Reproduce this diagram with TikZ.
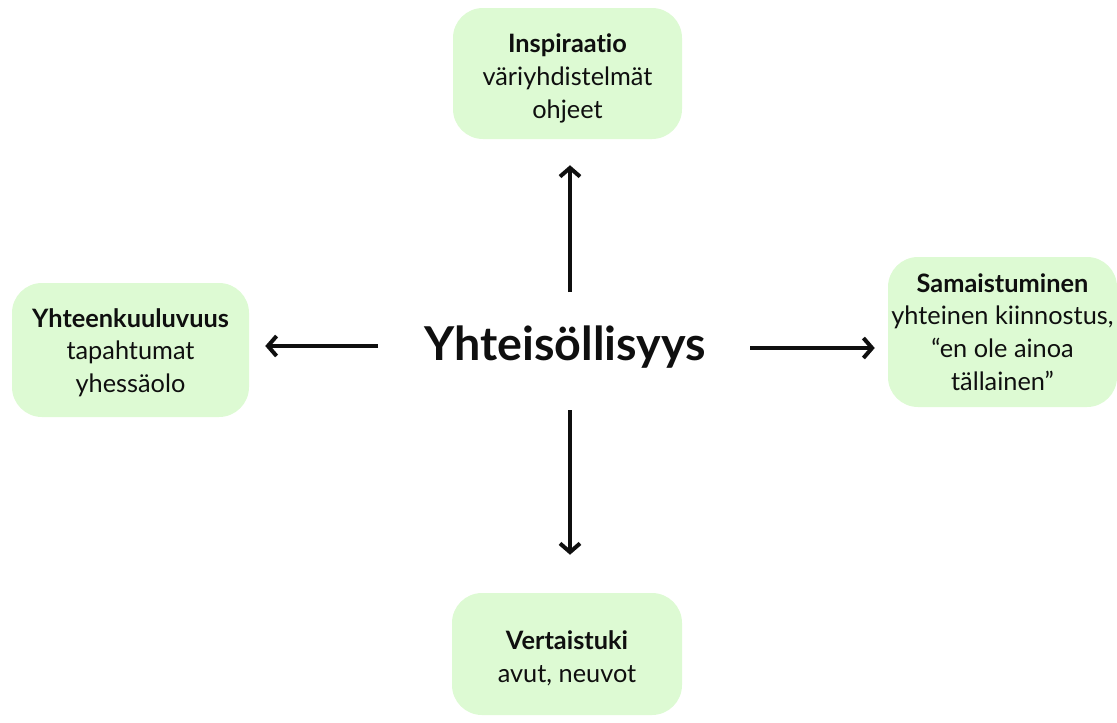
\documentclass[tikz,border=0pt]{standalone}
\usepackage{fontspec}
\setmainfont[Ligatures=NoCommon]{Lato}
\usetikzlibrary{arrows.meta}
\definecolor{boxgreen}{RGB}{221,250,211}
\definecolor{ink}{RGB}{15,15,15}
\newcommand{\liftline}[1][21pt]{\rule{0pt}{#1}}
\tikzset{
  card/.style={fill=boxgreen, draw=none, rounded corners=22.5pt, align=center, text=ink,
    font=\fontsize{19}{24.6}\selectfont, inner sep=0pt},
  hubtext/.style={font=\fontsize{35}{40}\selectfont\bfseries, text=ink, inner sep=0pt},
  arr/.style={line width=3.4pt, -{Straight Barb[length=6.5pt,width=15pt,line width=3pt]}, ink}
}
\begin{document}
\begin{tikzpicture}[x=0.75pt,y=-0.75pt]
\useasboundingbox (0,0) rectangle (1117,722);
\node[card, minimum width=171.75pt, minimum height=98.25pt] (top) at (567.5,73.5)
  {\liftline\textbf{Inspiraatio}\\väriyhdistelmät\\ohjeet};
\node[card, minimum width=177.75pt, minimum height=100.5pt] (left) at (130.5,350)
  {\liftline[18pt]\textbf{Yhteenkuuluvuus}\\tapahtumat\\yhessäolo};
\node[card, minimum width=171.75pt, minimum height=112.5pt] (right) at (1002.5,332)
  {\textbf{Samaistuminen}\\yhteinen kiinnostus,\\“en ole ainoa\\tällainen”};
\node[card, minimum width=172.5pt, minimum height=91.5pt] (bottom) at (567,654)
  {\liftline\textbf{Vertaistuki}\\avut, neuvot};
\node[hubtext] (hub) at (565,347) {Yhteisöllisyys};
\coordinate (sU) at (570,292);
\coordinate (sD) at (570,410);
\coordinate (sL) at (378,346);
\coordinate (sR) at (750,348);
\draw[arr, shorten >=19.5pt] (sU) -- (sU |- top.south);
\draw[arr, shorten >=28.5pt] (sD) -- (sD |- bottom.north);
\draw[arr, shorten >=12pt] (sL) -- (sL -| left.east);
\draw[arr, shorten >=9.75pt] (sR) -- (sR -| right.west);
\end{tikzpicture}
\end{document}
